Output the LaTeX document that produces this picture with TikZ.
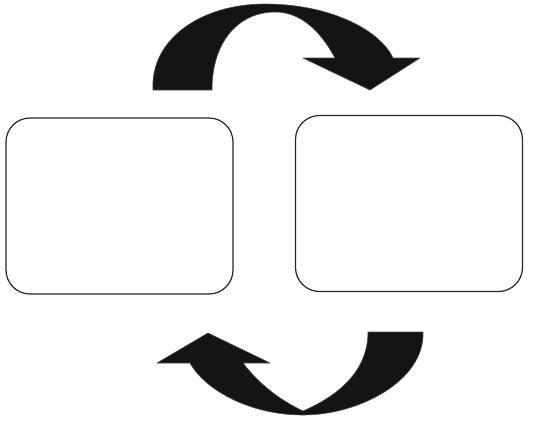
\documentclass[tikz,border=0pt]{standalone}
\begin{document}
\begin{tikzpicture}[x=1pt,y=-1pt,
  box/.style={draw=black!85,line width=1.2pt,rounded corners=24pt,minimum width=227pt,minimum height=176pt,inner sep=0pt},
  bigarrow/.style={fill=black!92,draw=black!70,line width=0.6pt,line join=round}]
\useasboundingbox (0,0) rectangle (550,424);
\node[box] (left) at (119.5,206) {};
\node[box] (right) at (409,203.5) {};
% top curved arrow
\path[bigarrow] (153,90) .. controls (150,40) and (200,4) .. (265,4)
  .. controls (330,4) and (380,30) .. (393,58) -- (420,58) -- (370,90) -- (303,58) -- (335,58)
  .. controls (320,30) and (300,12) .. (275,12)
  .. controls (240,12) and (212,40) .. (212,90) -- cycle;
% bottom curved arrow
\path[bigarrow] (423,332) .. controls (425,380) and (360,415) .. (303,415)
  .. controls (250,415) and (205,390) .. (190,363) -- (157,363) -- (208,333) -- (270,363) -- (243,363)
  .. controls (260,385) and (280,400) .. (303,411)
  .. controls (340,395) and (368,370) .. (368,332) -- cycle;
\end{tikzpicture}
\end{document}
